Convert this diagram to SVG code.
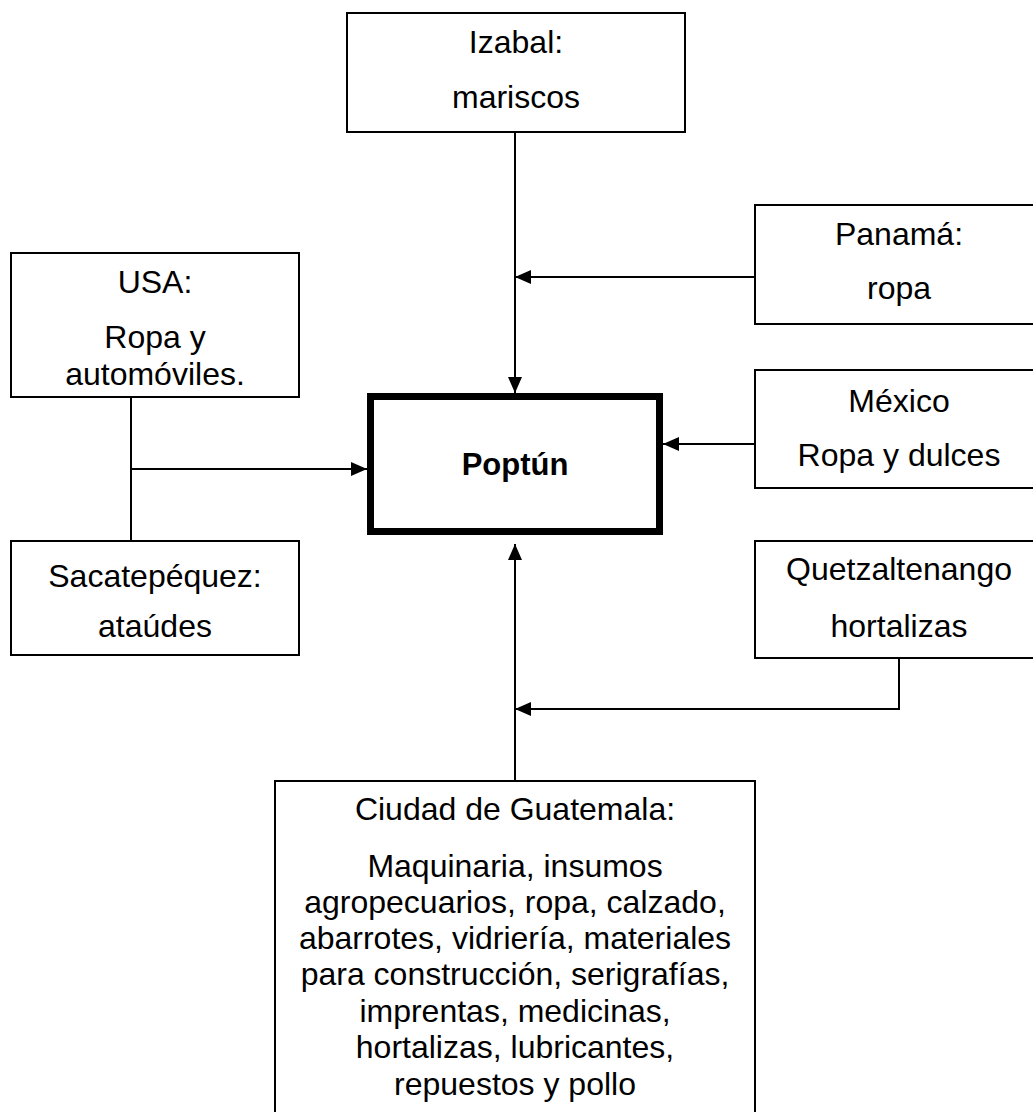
<svg xmlns="http://www.w3.org/2000/svg" width="1033" height="1112" viewBox="0 0 1033 1112">
<style>
.box{fill:#fff;stroke:#000;stroke-width:2}
.main{fill:#fff;stroke:#000;stroke-width:7}
.t{font-family:"Liberation Sans",Arial,sans-serif;font-size:32px;fill:#000;text-anchor:middle}
.b{font-weight:bold;font-size:31px}
.c{fill:none;stroke:#000;stroke-width:2}
</style>
<defs>
<marker id="ah" markerUnits="userSpaceOnUse" markerWidth="16" markerHeight="14" refX="16" refY="7" orient="auto">
<path d="M0,0 L16,7 L0,14 z" fill="#000"/>
</marker>
</defs>
<rect width="1033" height="1112" fill="#fff"/>
<g id="connectors">
<path class="c" d="M515,132 V393" marker-end="url(#ah)"/>
<path class="c" d="M755,277 H515" marker-end="url(#ah)"/>
<path class="c" d="M131,397 V541"/>
<path class="c" d="M131,469 H367" marker-end="url(#ah)"/>
<path class="c" d="M755,444 H663" marker-end="url(#ah)"/>
<path class="c" d="M899,658 V709 H515" marker-end="url(#ah)"/>
<path class="c" d="M515,781 V544" marker-end="url(#ah)"/>
</g>
<g id="izabal">
<rect class="box" x="347" y="13" width="338" height="119"/>
<text class="t" x="516" y="53">Izabal:</text>
<text class="t" x="516" y="108">mariscos</text>
</g>
<g id="usa">
<rect class="box" x="11" y="253" width="288" height="144"/>
<text class="t" x="155" y="293">USA:</text>
<text class="t" x="155" y="348">Ropa y</text>
<text class="t" x="155" y="385">automóviles.</text>
</g>
<g id="sacatepequez">
<rect class="box" x="11" y="541" width="288" height="114"/>
<text class="t" x="155" y="587">Sacatepéquez:</text>
<text class="t" x="155" y="637">ataúdes</text>
</g>
<g id="panama">
<rect class="box" x="755" y="205" width="290" height="119"/>
<text class="t" x="899" y="245">Panamá:</text>
<text class="t" x="899" y="299">ropa</text>
</g>
<g id="mexico">
<rect class="box" x="755" y="370" width="290" height="118"/>
<text class="t" x="899" y="412">México</text>
<text class="t" x="899" y="466">Ropa y dulces</text>
</g>
<g id="quetzaltenango">
<rect class="box" x="755" y="541" width="290" height="117"/>
<text class="t" x="899" y="580">Quetzaltenango</text>
<text class="t" x="899" y="637">hortalizas</text>
</g>
<g id="poptun">
<rect class="main" x="370.5" y="396.5" width="289" height="135"/>
<text class="t b" x="515" y="475">Poptún</text>
</g>
<g id="ciudad">
<rect class="box" x="275" y="781" width="480" height="345"/>
<text class="t" x="515" y="820">Ciudad de Guatemala:</text>
<text class="t" x="515" y="877">Maquinaria, insumos</text>
<text class="t" x="515" y="913">agropecuarios, ropa, calzado,</text>
<text class="t" x="515" y="949">abarrotes, vidriería, materiales</text>
<text class="t" x="515" y="985">para construcción, serigrafías,</text>
<text class="t" x="515" y="1022">imprentas, medicinas,</text>
<text class="t" x="515" y="1058">hortalizas, lubricantes,</text>
<text class="t" x="515" y="1095">repuestos y pollo</text>
</g>
</svg>
